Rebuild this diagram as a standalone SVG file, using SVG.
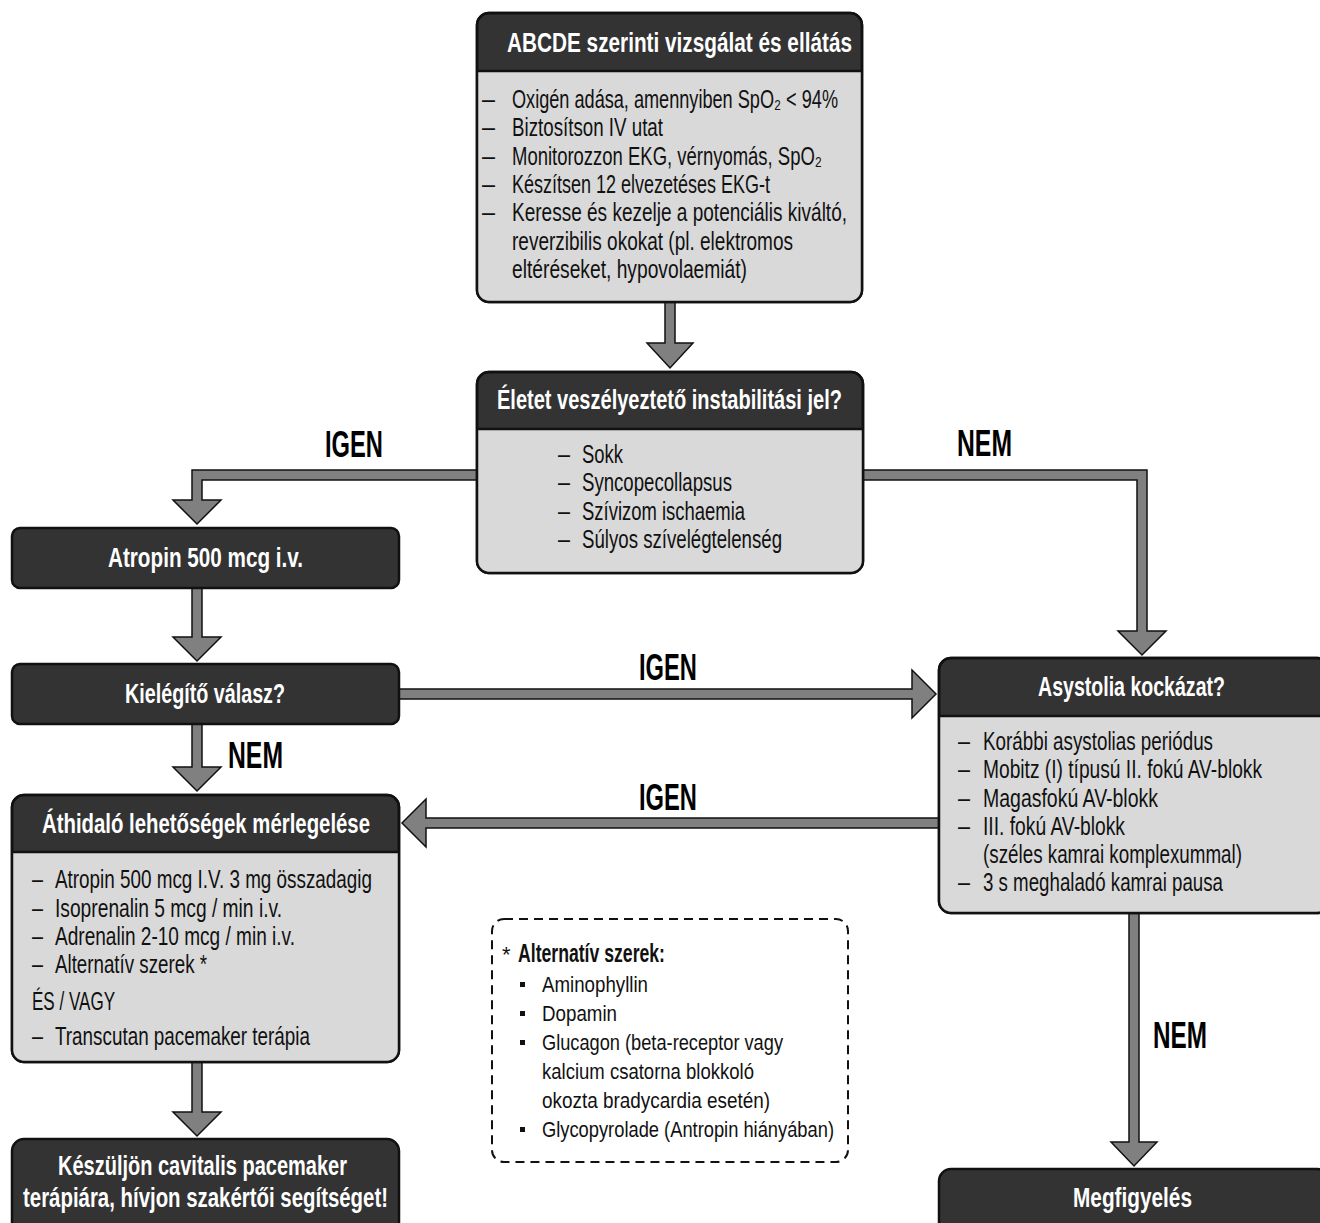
<svg xmlns="http://www.w3.org/2000/svg" width="1320" height="1223" viewBox="0 0 1320 1223">
<style>
.hd{fill:#333333;stroke:#111;stroke-width:2.5}
.bd{fill:#d9d9d9}
.ol{fill:none;stroke:#111;stroke-width:2.5}
.sep{stroke:#111;stroke-width:2.5}
.arr{fill:#808080;stroke:#111;stroke-width:1.5;stroke-linejoin:miter}
text{font-family:"Liberation Sans Narrow","Liberation Sans",Arial,sans-serif}
.ht{font-size:28px;font-weight:bold;fill:#fff}
.bt{font-size:25px;fill:#111}
.it{font-size:22px;fill:#111}
.lb{font-size:37px;font-weight:bold;fill:#000}
.dash{fill:none;stroke:#111;stroke-width:2;stroke-dasharray:9 6}
</style>
<rect width="1320" height="1223" fill="#fff"/>

<g id="connectors">
<polygon class="arr" points="665,302 675,302 675,343 693,343 670,368 647,343 665,343"/>
<polygon class="arr" points="477,470 192,470 192,500 173,500 197,524 221,500 202,500 202,480 477,480"/>
<polygon class="arr" points="863,470 1147,470 1147,631 1166,631 1142,655 1118,631 1137,631 1137,480 863,480"/>
<polygon class="arr" points="192,588 202,588 202,637 221,637 197,661 173,637 192,637"/>
<polygon class="arr" points="399,689 912,689 912,670 936,694 912,718 912,699 399,699"/>
<polygon class="arr" points="192,724 202,724 202,767 221,767 197,791 173,767 192,767"/>
<polygon class="arr" points="939,818 426,818 426,799 402,823 426,847 426,828 939,828"/>
<polygon class="arr" points="192,1062 202,1062 202,1112 221,1112 197,1136 173,1112 192,1112"/>
<polygon class="arr" points="1129,913 1139,913 1139,1142 1157,1142 1134,1166 1111,1142 1129,1142"/>
<text class="lb" x="325" y="457" textLength="58" lengthAdjust="spacingAndGlyphs">IGEN</text>
<text class="lb" x="957" y="456" textLength="55" lengthAdjust="spacingAndGlyphs">NEM</text>
<text class="lb" x="639" y="680" textLength="58" lengthAdjust="spacingAndGlyphs">IGEN</text>
<text class="lb" x="228" y="768" textLength="55" lengthAdjust="spacingAndGlyphs">NEM</text>
<text class="lb" x="639" y="810" textLength="58" lengthAdjust="spacingAndGlyphs">IGEN</text>
<text class="lb" x="1153" y="1048" textLength="54" lengthAdjust="spacingAndGlyphs">NEM</text>
</g>

<g id="abcde">
<rect class="hd" x="477" y="13" width="385" height="289" rx="12"/>
<path class="bd" d="M477,71 H862 V290 A12,12 0 0 1 850,302 H489 A12,12 0 0 1 477,290 Z"/>
<line class="sep" x1="477" y1="71" x2="862" y2="71"/>
<rect class="ol" x="477" y="13" width="385" height="289" rx="12"/>
<text class="ht" x="507" y="52" textLength="345" lengthAdjust="spacingAndGlyphs">ABCDE szerinti vizsgálat és ellátás</text>
<g class="bt">
<text x="482" y="108" textLength="13" lengthAdjust="spacingAndGlyphs">–</text>
<text x="512" y="108" textLength="326" lengthAdjust="spacingAndGlyphs">Oxigén adása, amennyiben SpO₂ &lt; 94%</text>
<text x="482" y="136.3" textLength="13" lengthAdjust="spacingAndGlyphs">–</text>
<text x="512" y="136.3" textLength="151" lengthAdjust="spacingAndGlyphs">Biztosítson IV utat</text>
<text x="482" y="164.6" textLength="13" lengthAdjust="spacingAndGlyphs">–</text>
<text x="512" y="164.6" textLength="310" lengthAdjust="spacingAndGlyphs">Monitorozzon EKG, vérnyomás, SpO₂</text>
<text x="482" y="192.9" textLength="13" lengthAdjust="spacingAndGlyphs">–</text>
<text x="512" y="192.9" textLength="258" lengthAdjust="spacingAndGlyphs">Készítsen 12 elvezetéses EKG-t</text>
<text x="482" y="221.2" textLength="13" lengthAdjust="spacingAndGlyphs">–</text>
<text x="512" y="221.2" textLength="335" lengthAdjust="spacingAndGlyphs">Keresse és kezelje a potenciális kiváltó,</text>
<text x="512" y="249.5" textLength="281" lengthAdjust="spacingAndGlyphs">reverzibilis okokat (pl. elektromos</text>
<text x="512" y="277.8" textLength="235" lengthAdjust="spacingAndGlyphs">eltéréseket, hypovolaemiát)</text>
</g>
</g>

<g id="instabil">
<rect class="hd" x="477" y="372" width="386" height="201" rx="12"/>
<path class="bd" d="M477,429 H863 V561 A12,12 0 0 1 851,573 H489 A12,12 0 0 1 477,561 Z"/>
<line class="sep" x1="477" y1="429" x2="863" y2="429"/>
<rect class="ol" x="477" y="372" width="386" height="201" rx="12"/>
<text class="ht" x="497" y="409" textLength="345" lengthAdjust="spacingAndGlyphs">Életet veszélyeztető instabilitási jel?</text>
<g class="bt">
<text x="558" y="463" textLength="12" lengthAdjust="spacingAndGlyphs">–</text>
<text x="582" y="463" textLength="41" lengthAdjust="spacingAndGlyphs">Sokk</text>
<text x="558" y="491.3" textLength="12" lengthAdjust="spacingAndGlyphs">–</text>
<text x="582" y="491.3" textLength="150" lengthAdjust="spacingAndGlyphs">Syncopecollapsus</text>
<text x="558" y="519.6" textLength="12" lengthAdjust="spacingAndGlyphs">–</text>
<text x="582" y="519.6" textLength="163" lengthAdjust="spacingAndGlyphs">Szívizom ischaemia</text>
<text x="558" y="548" textLength="12" lengthAdjust="spacingAndGlyphs">–</text>
<text x="582" y="548" textLength="200" lengthAdjust="spacingAndGlyphs">Súlyos szívelégtelenség</text>
</g>
</g>

<g id="atropin">
<rect class="hd" x="12" y="528" width="387" height="60" rx="8"/>
<text class="ht" x="108" y="567" textLength="195" lengthAdjust="spacingAndGlyphs">Atropin 500 mcg i.v.</text>
</g>

<g id="kielegito">
<rect class="hd" x="12" y="664" width="387" height="60" rx="8"/>
<text class="ht" x="125" y="703" textLength="160" lengthAdjust="spacingAndGlyphs">Kielégítő válasz?</text>
</g>

<g id="athidalo">
<rect class="hd" x="12" y="795" width="387" height="267" rx="12"/>
<path class="bd" d="M12,852 H399 V1050 A12,12 0 0 1 387,1062 H24 A12,12 0 0 1 12,1050 Z"/>
<line class="sep" x1="12" y1="852" x2="399" y2="852"/>
<rect class="ol" x="12" y="795" width="387" height="267" rx="12"/>
<text class="ht" x="42" y="833" textLength="328" lengthAdjust="spacingAndGlyphs">Áthidaló lehetőségek mérlegelése</text>
<g class="bt">
<text x="32" y="888" textLength="11" lengthAdjust="spacingAndGlyphs">–</text>
<text x="55" y="888" textLength="317" lengthAdjust="spacingAndGlyphs">Atropin 500 mcg I.V. 3 mg összadagig</text>
<text x="32" y="917" textLength="11" lengthAdjust="spacingAndGlyphs">–</text>
<text x="55" y="917" textLength="227" lengthAdjust="spacingAndGlyphs">Isoprenalin 5 mcg / min i.v.</text>
<text x="32" y="945" textLength="11" lengthAdjust="spacingAndGlyphs">–</text>
<text x="55" y="945" textLength="240" lengthAdjust="spacingAndGlyphs">Adrenalin 2-10 mcg / min i.v.</text>
<text x="32" y="973" textLength="11" lengthAdjust="spacingAndGlyphs">–</text>
<text x="55" y="973" textLength="152" lengthAdjust="spacingAndGlyphs">Alternatív szerek *</text>
<text x="32" y="1010" textLength="83" lengthAdjust="spacingAndGlyphs">ÉS / VAGY</text>
<text x="32" y="1045" textLength="11" lengthAdjust="spacingAndGlyphs">–</text>
<text x="55" y="1045" textLength="255" lengthAdjust="spacingAndGlyphs">Transcutan pacemaker terápia</text>
</g>
</g>

<g id="keszuljon">
<rect class="hd" x="12" y="1139" width="387" height="110" rx="12"/>
<text class="ht" x="58" y="1175" textLength="289" lengthAdjust="spacingAndGlyphs">Készüljön cavitalis pacemaker</text>
<text class="ht" x="23" y="1207" textLength="365" lengthAdjust="spacingAndGlyphs">terápiára, hívjon szakértői segítséget!</text>
</g>

<g id="asystolia">
<rect class="hd" x="939" y="658" width="390" height="255" rx="12"/>
<path class="bd" d="M939,716 H1329 V901 A12,12 0 0 1 1317,913 H951 A12,12 0 0 1 939,901 Z"/>
<line class="sep" x1="939" y1="716" x2="1329" y2="716"/>
<rect class="ol" x="939" y="658" width="390" height="255" rx="12"/>
<text class="ht" x="1038" y="696" textLength="187" lengthAdjust="spacingAndGlyphs">Asystolia kockázat?</text>
<g class="bt">
<text x="958" y="750" textLength="12" lengthAdjust="spacingAndGlyphs">–</text>
<text x="983" y="750" textLength="230" lengthAdjust="spacingAndGlyphs">Korábbi asystolias periódus</text>
<text x="958" y="778" textLength="12" lengthAdjust="spacingAndGlyphs">–</text>
<text x="983" y="778" textLength="279" lengthAdjust="spacingAndGlyphs">Mobitz (I) típusú II. fokú AV-blokk</text>
<text x="958" y="806.5" textLength="12" lengthAdjust="spacingAndGlyphs">–</text>
<text x="983" y="806.5" textLength="175" lengthAdjust="spacingAndGlyphs">Magasfokú AV-blokk</text>
<text x="958" y="835" textLength="12" lengthAdjust="spacingAndGlyphs">–</text>
<text x="983" y="835" textLength="142" lengthAdjust="spacingAndGlyphs">III. fokú AV-blokk</text>
<text x="983" y="863" textLength="259" lengthAdjust="spacingAndGlyphs">(széles kamrai komplexummal)</text>
<text x="958" y="891" textLength="12" lengthAdjust="spacingAndGlyphs">–</text>
<text x="983" y="891" textLength="240" lengthAdjust="spacingAndGlyphs">3 s meghaladó kamrai pausa</text>
</g>
</g>

<g id="megfigyeles">
<rect class="hd" x="939" y="1169" width="390" height="80" rx="12"/>
<text class="ht" x="1073" y="1207" textLength="119" lengthAdjust="spacingAndGlyphs">Megfigyelés</text>
</g>

<g id="alternativ">
<rect class="dash" x="492" y="919" width="356" height="243" rx="12"/>
<text class="it" x="502" y="962" font-size="22">*</text>
<text class="bt" x="518" y="962" font-weight="bold" textLength="147" lengthAdjust="spacingAndGlyphs" font-size="24">Alternatív szerek:</text>
<g fill="#111">
<rect x="520" y="982" width="5" height="5"/>
<rect x="520" y="1011" width="5" height="5"/>
<rect x="520" y="1040" width="5" height="5"/>
<rect x="520" y="1127" width="5" height="5"/>
</g>
<g class="it">
<text x="542" y="992" textLength="106" lengthAdjust="spacingAndGlyphs">Aminophyllin</text>
<text x="542" y="1021" textLength="75" lengthAdjust="spacingAndGlyphs">Dopamin</text>
<text x="542" y="1050" textLength="241" lengthAdjust="spacingAndGlyphs">Glucagon (beta-receptor vagy</text>
<text x="542" y="1079" textLength="212" lengthAdjust="spacingAndGlyphs">kalcium csatorna blokkoló</text>
<text x="542" y="1108" textLength="228" lengthAdjust="spacingAndGlyphs">okozta bradycardia esetén)</text>
<text x="542" y="1137" textLength="292" lengthAdjust="spacingAndGlyphs">Glycopyrolade (Antropin hiányában)</text>
</g>
</g>
</svg>
